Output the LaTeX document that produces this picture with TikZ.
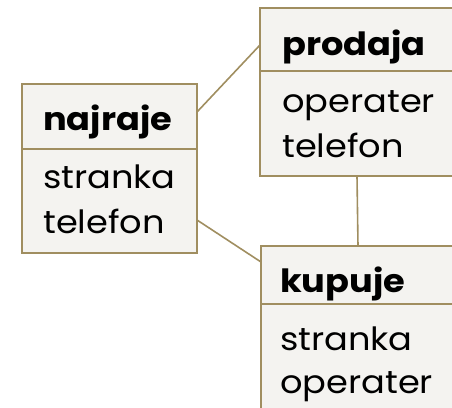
\documentclass[tikz,border=0pt]{standalone}
\usepackage{fontspec}
\setmainfont[FakeStretch=1.1]{Poppins}
\definecolor{bord}{RGB}{160,142,96}
\definecolor{boxfill}{RGB}{244,243,240}
\begin{document}
\begin{tikzpicture}[x=1pt,y=-1pt,
  cell/.style={draw=bord,fill=boxfill,line width=2.2pt,anchor=north west,inner sep=0pt,outer sep=0pt},
  link/.style={draw=bord,line width=1.6pt},
  ttl/.style={anchor=base west,inner sep=0pt,font=\fontsize{32}{36}\selectfont\bfseries},
  attr/.style={anchor=base west,inner sep=0pt,font=\fontsize{32}{36}\selectfont}]
\useasboundingbox (0,0) rectangle (452,407);
\clip (0,0) rectangle (452,407);
% najraje
\node[cell,minimum width=175pt,minimum height=65pt] (najH) at (22,84) {};
\node[cell,minimum width=175pt,minimum height=104pt] (najB) at (22,149) {};
\node[ttl] (najT) at (43,130) {najraje};
\node[attr] (najA1) at (43,188) {stranka};
\node[attr] (najA2) at (43,233) {telefon};
% prodaja
\node[cell,minimum width=194pt,minimum height=63pt] (prodH) at (260,8) {};
\node[cell,minimum width=194pt,minimum height=105pt] (prodB) at (260,71) {};
\node[ttl] (prodT) at (282,55) {prodaja};
\node[attr] (prodA1) at (282,112) {operater};
\node[attr] (prodA2) at (282,157) {telefon};
% kupuje
\node[cell,minimum width=194pt,minimum height=58pt] (kupH) at (261,246) {};
\node[cell,minimum width=194pt,minimum height=140pt] (kupB) at (261,304) {};
\node[ttl] (kupT) at (280,292) {kupuje};
\node[attr] (kupA1) at (280,350) {stranka};
\node[attr] (kupA2) at (280,393) {operater};
% connectors
\draw[link] ([yshift=4.5pt]najH.east) -- ([yshift=-5.5pt]prodH.west);
\draw[link] ([yshift=-19pt]najB.east) -- ([yshift=13pt]kupH.west);
\draw[link] (prodB.south) -- (kupH.north);
\end{tikzpicture}
\end{document}
